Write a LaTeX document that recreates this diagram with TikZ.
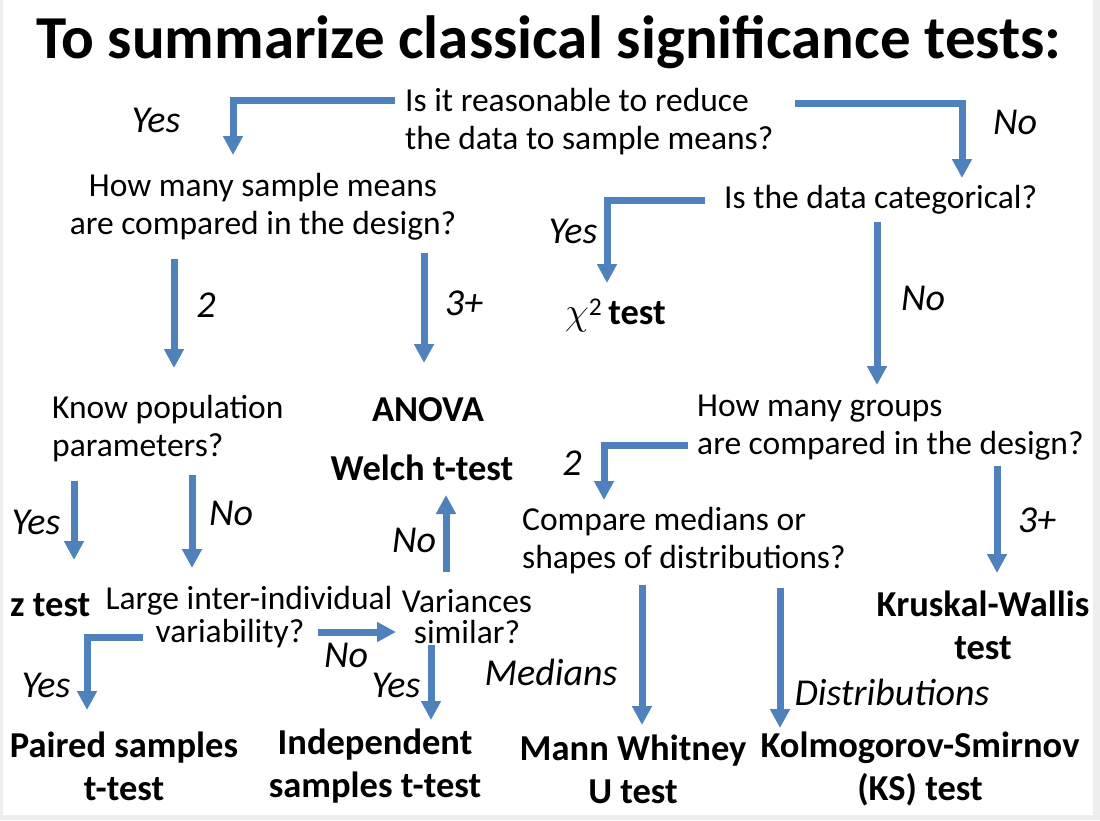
\documentclass[tikz,border=0pt]{standalone}
\usepackage{graphicx}
\usepackage{fontspec}
\setmainfont{Carlito}
\usepackage{tikz}
\usetikzlibrary{arrows.meta}
\definecolor{flow}{HTML}{4F81BD}
\definecolor{frame}{HTML}{EEEEEE}

\begin{document}
\begin{tikzpicture}[x=1pt, y=-1pt,
  quest/.style={inner sep=0pt, font=\fontsize{33.5}{38}\selectfont},
  result/.style={inner sep=0pt, align=center, font=\fontsize{36.5}{43}\selectfont\bfseries},
  lab/.style={inner sep=0pt, font=\fontsize{38}{40}\selectfont\itshape},
  arr/.style={-{Triangle[width=19pt,length=19pt]}, line width=7pt, color=flow}
]
\useasboundingbox (0,0) rectangle (1100,820);
\fill[frame] (0,0) rectangle (1100,820);
\fill[white] (3,0) rectangle (1093,815);

\node[inner sep=0pt, font=\fontsize{61}{66}\selectfont\bfseries] (title) at (549,42) {To summarize classical significance tests:};

\node[quest, align=left, anchor=west] (q1) at (405,122) {Is it reasonable to reduce\\the data to sample means?};
\node[quest, align=center] (q2) at (263,207) {How many sample means\\are compared in the design?};
\node[quest, anchor=west] (q3) at (724,200) {Is the data categorical?};
\node[result, anchor=west] (chi) at (565,315) {\scalebox{1.55}{$\chi$}{\mdseries\textsuperscript{2}}\,test};
\node[quest, align=left, anchor=west] (kp) at (52,429) {Know population\\parameters?};
\node[result] (anova) at (428,410) {ANOVA};
\node[result] (welch) at (422,468) {Welch t-test};
\node[quest, align=left, anchor=west] (q4) at (697,428) {How many groups\\are compared in the design?};
\node[quest, align=left, anchor=west] (q5) at (522,541) {Compare medians or\\shapes of distributions?};
\node[result, anchor=west] (zt) at (10,605) {z test};
\node[quest, align=center, font=\fontsize{33.5}{33}\selectfont] (q6) at (249,617) {Large inter-individual\\variability?\hspace*{38pt}};
\node[quest, align=center, font=\fontsize{33.5}{31}\selectfont] (q7) at (467,617) {Variances\\similar?};
\node[result] (kw) at (983,625) {Kruskal-Wallis\\test};
\node[result] (paired) at (124,766) {Paired samples\\t-test};
\node[result] (indep) at (375,766) {Independent\\samples t-test};
\node[result] (mw) at (633,769) {Mann Whitney\\U test};
\node[result] (ks) at (920,769) {Kolmogorov-Smirnov\\(KS) test};

\node[lab] (yes1) at (156,120) {Yes};
\node[lab] (no1) at (1015,122) {No};
\node[lab] (yes2) at (573,231) {Yes};
\node[lab] (two1) at (206,305) {2};
\node[lab] (three1) at (464,303) {3+};
\node[lab] (no2) at (923,298) {No};
\node[lab] (two2) at (572,463) {2};
\node[lab] (yes3) at (36,522) {Yes};
\node[lab] (no3) at (231,513) {No};
\node[lab] (no4) at (414,540) {No};
\node[lab] (three2) at (1037,520) {3+};
\node[lab] (no5) at (346,655) {No};
\node[lab] (yes4) at (46,685) {Yes};
\node[lab] (yes5) at (396,685) {Yes};
\node[lab] (medians) at (551,672) {Medians};
\node[lab] (distr) at (892,692) {Distributions};

\draw[arr] ([xshift=-10pt,yshift=22pt]q1.west) -| ([xshift=-30pt,yshift=52pt]q2.center);
\draw[arr] ([xshift=390pt,yshift=19pt]q1.west) -| ([xshift=238pt,yshift=22pt]q3.west);
\draw[arr] ([xshift=-19pt]q3.west) -| ([xshift=42pt,yshift=32pt]chi.west);
\draw[arr] ([xshift=-89pt,yshift=-52pt]q2.center) -- ([xshift=122pt,yshift=61pt]kp.west);
\draw[arr] ([xshift=161pt,yshift=-46pt]q2.center) -- ([xshift=-4pt,yshift=47pt]anova.center);
\draw[arr] ([xshift=153pt,yshift=-22pt]q3.west) -- ([xshift=180pt,yshift=43pt]q4.west);
\draw[arr] ([xshift=-9pt,yshift=-17pt]q4.west) -| ([xshift=82pt,yshift=41pt]q5.west);
\draw[arr] ([xshift=22pt,yshift=-52pt]kp.west) -- ([xshift=64pt,yshift=45pt]zt.west);
\draw[arr] ([xshift=140pt,yshift=-46pt]kp.west) -- ([xshift=-57pt,yshift=49pt]q6.center);
\draw[arr] ([xshift=-21pt,yshift=45pt]q7.center) -- ([xshift=24pt,yshift=-27pt]welch.center);
\draw[arr] ([xshift=300pt,yshift=-38pt]q4.west) -- ([xshift=14pt,yshift=52pt]kw.center);
\draw[arr] ([xshift=-106pt,yshift=-20pt]q6.center) -| ([xshift=-37pt,yshift=56pt]paired.center);
\draw[arr] ([xshift=69pt,yshift=-15pt]q6.center) -- ([xshift=-71pt,yshift=-15pt]q7.center);
\draw[arr] ([xshift=-36pt,yshift=-28pt]q7.center) -- ([xshift=56pt,yshift=46pt]indep.center);
\draw[arr] ([xshift=120pt,yshift=-44pt]q5.west) -- ([xshift=9pt,yshift=44pt]mw.center);
\draw[arr] ([xshift=258pt,yshift=-47pt]q5.west) -- ([xshift=-140pt,yshift=41pt]ks.center);
\end{tikzpicture}
\end{document}
